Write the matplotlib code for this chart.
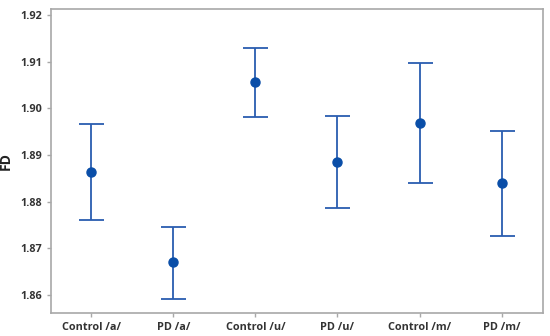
import matplotlib
matplotlib.use("Agg")
import matplotlib.pyplot as plt
import numpy as np

categories = ["Control /a/", "PD /a/", "Control /u/", "PD /u/", "Control /m/", "PD /m/"]
means = [1.8864, 1.8671, 1.9056, 1.8886, 1.8969, 1.8839]
upper = [1.8966, 1.8746, 1.9129, 1.8983, 1.9097, 1.8951]
lower = [1.8760, 1.8591, 1.8981, 1.8786, 1.8841, 1.8726]
yticks = [1.86, 1.87, 1.88, 1.89, 1.90, 1.91, 1.92]

plt.rcParams['font.family'] = ['Open Sans', 'DejaVu Sans']

fig = plt.figure(figsize=(5.5, 3.36), dpi=100)
ax = fig.add_axes([0.0927, 0.0685, 0.894, 0.904])

x = np.arange(len(categories))
m = np.array(means)
yerr = np.vstack([m - np.array(lower), np.array(upper) - m])
ax.errorbar(x, m, yerr=yerr, fmt='o', color='#0a4ea8', ecolor='#2a5db0',
            elinewidth=1.3, capsize=9, capthick=1.3, markersize=6.5)

ax.set_xlim(-0.49, 5.5)
ax.set_ylim(1.8561, 1.9213)
ax.set_yticks(yticks)
ax.set_yticklabels([f"{v:.2f}" for v in yticks])
ax.set_xticks(x)
ax.set_xticklabels(categories)
for s in ax.spines.values():
    s.set_color('#a8a8a8')
    s.set_linewidth(1.2)
ax.tick_params(axis='both', colors='#a8a8a8', length=3, width=1, labelsize=7.8,
               labelcolor='#333333', direction='out')
for lbl in ax.get_xticklabels() + ax.get_yticklabels():
    lbl.set_fontweight('bold')
ax.set_ylabel("FD", fontsize=10, fontweight='bold', color='#222222', labelpad=5)

fig.savefig("out.png", dpi=100)
